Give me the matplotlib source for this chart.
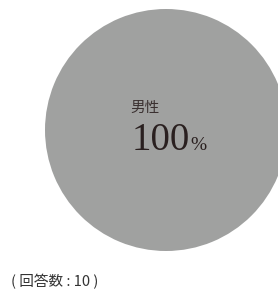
import matplotlib.pyplot as plt

labels = ['男性']
values = [100]
colors = ['#a0a1a0']
n_answers = 10

fig = plt.figure(figsize=(2.78, 2.91), dpi=100)
ax = fig.add_axes([0, 0, 1, 1])
ax.set_xlim(0, 278)
ax.set_ylim(291, 0)
ax.set_aspect('equal')
ax.axis('off')

ax.pie(values, colors=colors, center=(166, 130), radius=121,
       startangle=90, counterclock=False)
ax.set_xlim(0, 278)
ax.set_ylim(291, 0)

ax.text(145, 108, labels[0], fontsize=10.5, family=['Noto Sans CJK JP'],
        color='#3a3030', ha='center', va='center')
ax.text(132, 141, f'{values[0]}', fontsize=28, family=['Liberation Serif'],
        color='#2a2020', ha='left', va='center')
ax.text(190, 146, '%', fontsize=14, family=['Liberation Serif'],
        color='#2a2020', ha='left', va='center')

ax.text(11, 282, f'( 回答数 : {n_answers} )', fontsize=10.5,
        family=['Noto Sans CJK JP'], color='#333333', ha='left', va='center')

fig.savefig('out.png', dpi=100)
